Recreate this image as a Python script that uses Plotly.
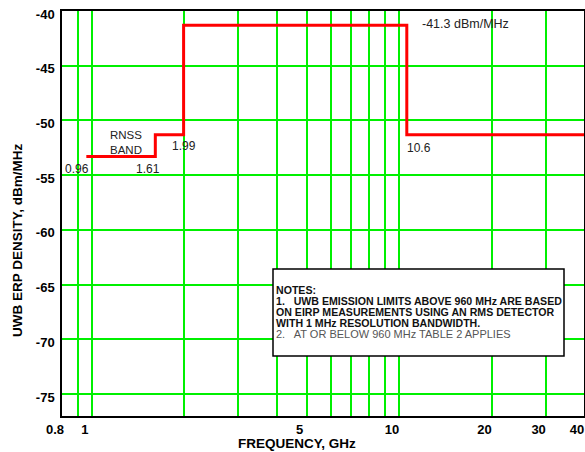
import numpy as np
import plotly.graph_objects as go

# ---- data ----
freq_ghz = [0.96, 1.61, 1.99, 10.6, 40]
limit_dbm_mhz = [-53.3, -51.3, -41.3, -51.3, -51.3]

x_tick_vals = [0.8, 1, 5, 10, 20, 30, 40]
x_tick_text = ["0.8", "1", "5", "10", "20", "30", "40"]
x_minor_grid = [0.9, 2, 3, 4, 6, 7, 8, 9]
x_dark_lines = [1, 10]
y_tick_vals = [-40, -45, -50, -55, -60, -65, -70, -75]
y_tick_text = ["-40", "-45", "-50", "-55", "-60", "-65", "-70", "-75"]
x_range = [0.8, 40]
y_range = [-77, -40]

point_labels = [
    # text, freq, level, xshift, yshift
    ("0.96", 0.96, -53.3, -9, -12),
    ("1.61", 1.61, -53.3, -7, -12),
    ("1.99", 1.99, -51.3, 0, -11),
    ("10.6", 10.6, -51.3, 12, -13),
]
notes_lines = [
    ("NOTES:", True),
    ("1.   UWB EMISSION LIMITS ABOVE 960 MHz ARE BASED", True),
    ("ON EIRP MEASUREMENTS USING AN RMS DETECTOR", True),
    ("WITH 1 MHz RESOLUTION BANDWIDTH.", True),
    ("2.   AT OR BELOW 960 MHz TABLE 2 APPLIES", False),
]

FONT = "Liberation Sans, Arial, sans-serif"
GREEN = "#00f000"

W, H = 585, 452
L, T, PW, PH = 62, 11, 522, 405

def px(xp):
    return (xp - L) / PW
def py(yp):
    return (T + PH - yp) / PH

fig = go.Figure()
fig.add_trace(go.Scatter(
    x=freq_ghz, y=limit_dbm_mhz, mode="lines", line_shape="hv",
    line=dict(color="#ff0000", width=3), showlegend=False, hoverinfo="x+y"))

# dark reference verticals at 1 and 10 GHz (above grid, below traces)
for xv in x_dark_lines:
    fig.add_shape(type="line", xref="x", yref="paper",
                  x0=np.log10(xv), x1=np.log10(xv), y0=0, y1=1,
                  line=dict(color="black", width=1.5), layer="between")

# point labels
for txt, fx, fy, xs, ys in point_labels:
    fig.add_annotation(x=np.log10(fx), y=fy, xref="x", yref="y", text=txt,
                       showarrow=False, xanchor="center", yanchor="middle",
                       xshift=xs, yshift=ys,
                       font=dict(family=FONT, size=12, color="#222222"))
fig.add_annotation(x=np.log10(1.29), y=-52.0, xref="x", yref="y",
                   text="RNSS<br>BAND", showarrow=False, align="left",
                   xanchor="center", yanchor="middle",
                   font=dict(family=FONT, size=11.5, color="#222222"))
fig.add_annotation(x=np.log10(10.6), y=-41.3, xref="x", yref="y",
                   text="-41.3 dBm/MHz", showarrow=False,
                   xanchor="left", yanchor="middle", xshift=13, yshift=1,
                   font=dict(family=FONT, size=12.5, color="#222222"))

# notes box
fig.add_shape(type="rect", xref="paper", yref="paper",
              x0=px(273), x1=px(564), y0=py(356), y1=py(269),
              fillcolor="white", line=dict(color="black", width=1.5), layer="above")
line_y = [289.5, 301, 312, 322.5, 333.5]
for (txt, bold), yy in zip(notes_lines, line_y):
    fig.add_annotation(x=px(274), y=py(yy), xref="paper", yref="paper",
                       text=txt, showarrow=False, xanchor="left", yanchor="middle",
                       font=dict(family=FONT, size=10.6 if bold else 11,
                                 color="#111111" if bold else "#555555",
                                 weight="bold" if bold else "normal"))

# axis titles
fig.add_annotation(x=px(297), y=py(443.5), xref="paper", yref="paper",
                   text="FREQUENCY, GHz", showarrow=False,
                   xanchor="center", yanchor="middle",
                   font=dict(family=FONT, size=13.5, color="black", weight="bold"))
fig.add_annotation(x=px(17), y=py(240), xref="paper", yref="paper",
                   text="UWB ERP DENSITY, dBm/MHz", showarrow=False, textangle=-90,
                   xanchor="center", yanchor="middle",
                   font=dict(family=FONT, size=13.5, color="black", weight="bold"))

fig.update_layout(
    width=W, height=H,
    margin=dict(l=L, r=W - L - PW, t=T, b=H - T - PH, pad=0, autoexpand=False),
    template="none", plot_bgcolor="white", paper_bgcolor="white",
    showlegend=False,
    xaxis=dict(type="log", range=[np.log10(x_range[0]), np.log10(x_range[1])],
               tickmode="array", tickvals=x_tick_vals, ticktext=x_tick_text,
               showgrid=True, gridcolor=GREEN, gridwidth=2,
               minor=dict(tickmode="array", tickvals=x_minor_grid, showgrid=True,
                          gridcolor=GREEN, gridwidth=2, ticks=""),
               ticks="", showline=True, linecolor="black", linewidth=1.5, mirror=True,
               zeroline=False, automargin=False, ticklabelshift=-7,
               ticklabelstandoff=1, ticklabeloverflow="allow",
               tickfont=dict(family=FONT, size=13, color="black", weight="bold")),
    yaxis=dict(range=y_range, tickmode="array", tickvals=y_tick_vals,
               ticktext=y_tick_text,
               showgrid=True, gridcolor=GREEN, gridwidth=2,
               ticks="", showline=True, linecolor="black", linewidth=1.5, mirror=True,
               zeroline=False, automargin=False, ticklabelshift=3,
               ticklabelstandoff=3, ticklabeloverflow="allow",
               tickfont=dict(family=FONT, size=13, color="black", weight="bold")),
)

fig.write_html(
    "out.html",
    config={"displayModeBar": False},
    post_script=("document.body.style.margin='0';"
                 "document.documentElement.style.overflow='hidden';"
                 "document.body.style.overflow='hidden';"),
)
